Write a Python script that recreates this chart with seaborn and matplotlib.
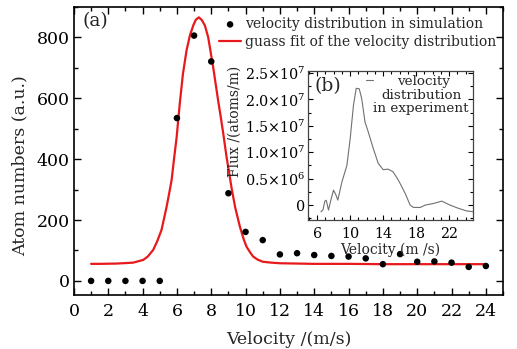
import numpy as np
import pandas as pd
import seaborn as sns
import matplotlib.pyplot as plt
from matplotlib.ticker import MultipleLocator

sns.set_theme(style='ticks')
plt.rcParams['font.family'] = ['DejaVu Serif']
plt.rcParams['mathtext.fontset'] = 'dejavuserif'

# simulated atom numbers per velocity bin
sim_velocity = list(range(1, 25))
sim_atoms = [0, 0, 0, 0, 0, 535, 806, 721, 288, 161, 134, 87,
             91, 85, 82, 80, 74, 55, 88, 63, 64, 60, 46, 49]

# gaussian fit curve
fit_velocity = [1.0, 1.5, 2.5, 3.45, 4.04, 4.3, 4.62, 4.85, 5.1, 5.25, 5.4, 5.55,
                5.69, 5.83, 5.98, 6.17, 6.35, 6.56, 6.75, 6.95, 7.1, 7.28, 7.45,
                7.63, 7.82, 8.11, 8.25, 8.4, 8.55, 8.7, 8.89, 9.0, 9.2, 9.4, 9.67,
                9.9, 10.06, 10.25, 10.44, 10.7, 11.0, 11.5, 12.0, 14.0, 16.0,
                18.0, 20.0, 22.0, 24.0]
fit_atoms = [56, 56, 57, 60, 69, 80, 102, 130, 167, 205, 244, 288,
             331, 400, 470, 585, 680, 757, 805, 839, 858, 866, 857,
             839, 801, 703, 650, 593, 540, 484, 408, 370, 300, 240, 178,
             135, 112, 95, 80, 70, 63, 60, 58, 56, 56,
             55, 55, 55, 55]

# measured flux (inset b)
exp_velocity = [6.45, 6.7, 6.93, 7.1, 7.37, 7.7, 7.98, 8.25, 8.5, 9.0, 9.6, 10.0,
                10.4, 10.73, 11.1, 11.4, 11.8, 12.2, 12.8, 13.4, 14.0, 14.6, 15.2,
                15.85, 16.67, 17.27, 17.67, 18.5, 19.1, 20.1, 21.1, 22.1, 23.1,
                24.1, 24.9]
exp_flux = [-1.26e6, -0.9e6, 0.75e6, 0.9e6, -0.94e6, 1.2e6, 2.83e6, 2.0e6, 0.94e6,
            4.4e6, 7.5e6, 1.26e7, 1.89e7, 2.21e7, 2.2e7, 2.01e7, 1.57e7, 1.38e7,
            1.07e7, 7.9e6, 6.7e6, 6.8e6, 6.3e6, 4.7e6, 2.2e6, 0.0, -0.45e6,
            -0.45e6, 0.0, 0.3e6, 0.75e6, 0.0, -0.6e6, -1.1e6, -1.26e6]

inset_yticks = [0, 5e6, 1e7, 1.5e7, 2e7, 2.5e7]
inset_ylabels = ['0', r'0.5$\times$10$^6$', r'1.0$\times$10$^7$',
                 r'1.5$\times$10$^7$', r'2.0$\times$10$^7$', r'2.5$\times$10$^7$']

sim = pd.DataFrame({'v': sim_velocity, 'n': sim_atoms})
fit = pd.DataFrame({'v': fit_velocity, 'n': fit_atoms})
exp = pd.DataFrame({'v': exp_velocity, 'flux': exp_flux})

fig = plt.figure(figsize=(5.17, 3.49), dpi=100)
ax = fig.add_axes([0.143, 0.155, 0.830, 0.825])

sns.scatterplot(data=sim, x='v', y='n', ax=ax, color='black', s=22, edgecolor='none',
                label='velocity distribution in simulation', zorder=3)
sns.lineplot(data=fit, x='v', y='n', ax=ax, color='#e8191c', linewidth=1.6,
             label='guass fit of the velocity distribution', zorder=2)

ax.set_xlim(0, 25)
ax.set_ylim(-46, 900)
ax.xaxis.set_major_locator(MultipleLocator(2))
ax.xaxis.set_minor_locator(MultipleLocator(1))
ax.yaxis.set_major_locator(MultipleLocator(200))
ax.yaxis.set_minor_locator(MultipleLocator(100))
ax.tick_params(which='both', direction='in', top=True, right=True,
               colors='black', width=1.0, labelsize=12.5)
ax.tick_params(axis='x', which='major', pad=6)
ax.tick_params(axis='y', which='major', pad=3)
ax.tick_params(which='major', length=5)
ax.tick_params(which='minor', length=3)
for s in ax.spines.values():
    s.set_color('black')
    s.set_linewidth(1.2)

ax.set_xlabel('Velocity /(m/s)', fontsize=12.5, labelpad=8)
ax.set_ylabel('Atom numbers (a.u.)', fontsize=12.5)
ax.yaxis.set_label_coords(-0.105, 0.45)
ax.text(0.02, 0.982, '(a)', transform=ax.transAxes, fontsize=13.5, va='top', ha='left')

ax.legend(loc='upper left', bbox_to_anchor=(0.338, 0.965), frameon=False,
          fontsize=10, handlelength=1.6, handletextpad=0.25, borderpad=0,
          borderaxespad=0, labelspacing=0.3)

# inset
ax_in = fig.add_axes([0.596, 0.370, 0.319, 0.427])
sns.lineplot(data=exp, x='v', y='flux', ax=ax_in, color='#707070', linewidth=0.8,
             label='velocity')
ax_in.set_xlim(4.9, 24.9)
ax_in.set_ylim(-2.8e6, 2.54e7)
ax_in.set_xticks([6, 10, 14, 18, 22])
ax_in.xaxis.set_minor_locator(MultipleLocator(1))
ax_in.set_yticks(inset_yticks)
ax_in.set_yticklabels(inset_ylabels)
ax_in.yaxis.set_minor_locator(MultipleLocator(2.5e6))
ax_in.tick_params(which='both', direction='in', top=True, right=True,
                  colors='black', width=0.8, labelsize=10.3)
ax_in.tick_params(axis='x', which='major', pad=5)
ax_in.tick_params(axis='y', which='major', pad=2)
ax_in.tick_params(which='major', length=3.5)
ax_in.tick_params(which='minor', length=2)
for s in ax_in.spines.values():
    s.set_color('#444444')
    s.set_linewidth(0.9)
ax_in.set_xlabel('Velocity (m /s)', fontsize=10, labelpad=1)
ax_in.set_ylabel('Flux /(atoms/m)', fontsize=10)
ax_in.yaxis.set_label_coords(-0.40, 0.66)
ax_in.text(0.04, 0.955, '(b)', transform=ax_in.transAxes, fontsize=13.5, va='top', ha='left')
ax_in.legend(loc='upper left', bbox_to_anchor=(0.35, 0.975), frameon=False, fontsize=9.7,
             handlelength=0.5, handletextpad=1.8, borderpad=0, borderaxespad=0)
ax_in.text(0.685, 0.88, 'distribution\nin experiment', transform=ax_in.transAxes,
           fontsize=9.7, va='top', ha='center', multialignment='center', linespacing=1.0)

fig.savefig('out.png', dpi=100)
